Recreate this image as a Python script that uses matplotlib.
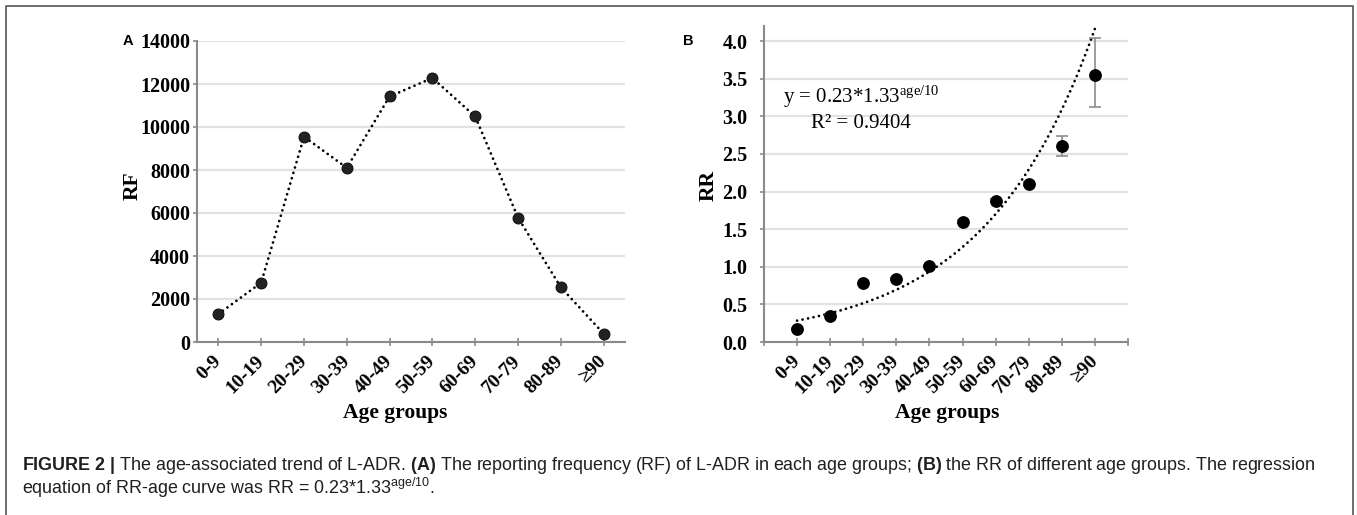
import numpy as np
import matplotlib
matplotlib.use('Agg')
import matplotlib.pyplot as plt
from matplotlib.lines import Line2D

# ---------------- data ----------------
age_groups = ['0-9', '10-19', '20-29', '30-39', '40-49', '50-59',
              '60-69', '70-79', '80-89', '≥90']
rf_values = [1300, 2760, 9550, 8100, 11420, 12280, 10490, 5785, 2545, 390]
rr_values = [0.17, 0.35, 0.78, 0.84, 1.01, 1.60, 1.88, 2.10, 2.61, 3.55]
rr_lower = [0.16, 0.34, 0.77, 0.83, 1.00, 1.58, 1.86, 2.07, 2.47, 3.12]
rr_upper = [0.18, 0.36, 0.79, 0.85, 1.02, 1.62, 1.90, 2.13, 2.74, 4.04]
rf_ticks = [0, 2000, 4000, 6000, 8000, 10000, 12000, 14000]
rr_ticks = [0.0, 0.5, 1.0, 1.5, 2.0, 2.5, 3.0, 3.5, 4.0]

# ---------------- style ----------------
plt.rcParams['font.family'] = ['Liberation Serif', 'DejaVu Serif']
plt.rcParams['mathtext.fontset'] = 'custom'
plt.rcParams['mathtext.rm'] = 'Liberation Sans'
plt.rcParams['mathtext.bf'] = 'Liberation Sans:bold'
plt.rcParams['mathtext.it'] = 'Liberation Sans:italic'

W, H = 1357, 515
fig = plt.figure(figsize=(W / 100, H / 100), dpi=100)


def fx(px):
    return px / W


def fy(py):
    return 1 - py / H


SPINE = '#8a8a8a'
GRID = '#e2e2e2'

# frame around figure
frame_col = '#555555'
fig.add_artist(Line2D([fx(6), fx(6), fx(1353), fx(1353)],
                      [fy(520), fy(6), fy(6), fy(520)],
                      color=frame_col, lw=1.2, transform=fig.transFigure))


def style_axes(ax, ylen, ypad):
    for s in ['top', 'right']:
        ax.spines[s].set_visible(False)
    for s in ['left', 'bottom']:
        ax.spines[s].set_color(SPINE)
        ax.spines[s].set_linewidth(1.5)
    ax.yaxis.grid(True, color=GRID, lw=1.6)
    ax.set_axisbelow(True)
    ax.tick_params(axis='y', direction='out', length=ylen, width=1.2,
                   color=SPINE, pad=ypad, labelsize=14.5)
    ax.tick_params(axis='x', direction='inout', length=6, width=1.2,
                   color=SPINE, pad=9, labelsize=14)
    for lbl in ax.get_xticklabels() + ax.get_yticklabels():
        lbl.set_fontweight('bold')
    for lbl in ax.get_xticklabels():
        lbl.set_rotation(45)
        lbl.set_ha('right')
        lbl.set_va('center')
        lbl.set_rotation_mode('anchor')


# ---------------- panel A ----------------
axA = fig.add_axes([fx(197), fy(342), fx(625) - fx(197), fy(41) - fy(342)])
xa = np.arange(len(age_groups))
axA.plot(xa, rf_values, color='black', lw=2.0, ls=(0, (0.01, 2.0)),
         dash_capstyle='round', zorder=2)
axA.plot(xa, rf_values, ls='none', marker='o', ms=7.8, mfc='#222222',
         mec='#111111', mew=0.8, zorder=3)
axA.set_xlim(-0.5, len(age_groups) - 0.5)
axA.set_ylim(rf_ticks[0], rf_ticks[-1])
axA.set_yticks(rf_ticks)
axA.set_yticklabels([str(v) for v in rf_ticks])
axA.set_xticks(xa)
axA.set_xticklabels(age_groups)
style_axes(axA, 3, 2)

# ---------------- panel B ----------------
axB = fig.add_axes([fx(764), fy(342), fx(1128) - fx(764), fy(26) - fy(342)])
xb = np.arange(1, len(age_groups) + 1)
coef = np.polyfit(xb, np.log(rr_values), 1)
xt = np.linspace(xb[0], xb[-1], 300)
yt = np.exp(coef[1] + coef[0] * xt)
axB.plot(xt, yt, color='black', lw=2.0, ls=(0, (0.01, 2.0)),
         dash_capstyle='round', zorder=2)
err = [np.array(rr_values) - np.array(rr_lower),
       np.array(rr_upper) - np.array(rr_values)]
axB.errorbar(xb, rr_values, yerr=err, fmt='none', ecolor='#8c8c8c',
             elinewidth=1.2, capsize=4, capthick=1.2, zorder=2.5)
axB.plot(xb, rr_values, ls='none', marker='o', ms=8.2, mfc='black',
         mec='black', zorder=3)
axB.set_xlim(0, len(age_groups) + 1)
axB.set_ylim(0, 4.2)
axB.set_yticks(rr_ticks)
axB.set_yticklabels([f'{v:.1f}' for v in rr_ticks])
axB.set_xticks(np.arange(0, len(age_groups) + 2))
axB.set_xticklabels([''] + age_groups + [''])
style_axes(axB, 3, 9)

# ---------------- labels ----------------
fig.text(fx(133), fy(186), 'RF', rotation=90, fontsize=15.5, weight='bold',
         ha='center', va='center')
fig.text(fx(709), fy(186), 'RR', rotation=90, fontsize=15.5, weight='bold',
         ha='center', va='center')
fig.text(fx(395), fy(413), 'Age groups', fontsize=15.5, weight='bold',
         ha='center', va='center')
fig.text(fx(947), fy(413), 'Age groups', fontsize=15.5, weight='bold',
         ha='center', va='center')

fig.text(fx(123), fy(41), 'A', family='Liberation Sans', weight='bold',
         fontsize=10.5, ha='left', va='center')
fig.text(fx(683), fy(41), 'B', family='Liberation Sans', weight='bold',
         fontsize=10.5, ha='left', va='center')

fig.text(fx(783), fy(103), r'y = 0.23*1.33$^{\mathregular{age/10}}$',
         fontsize=15, ha='left', va='baseline')
fig.text(fx(811), fy(128), 'R² = 0.9404', fontsize=15, ha='left',
         va='baseline')

cap_col = '#231f20'
fig.text(fx(22), fy(465),
         r'$\mathbf{FIGURE\ 2\ |}$ The age-associated trend of L-ADR. '
         r'$\mathbf{(A)}$ The reporting frequency (RF) of L-ADR in each age '
         r'groups; $\mathbf{(B)}$ the RR of different age groups. The regression',
         family='Liberation Sans', fontsize=12.9, color=cap_col,
         ha='left', va='center')
fig.text(fx(22), fy(488),
         r'equation of RR-age curve was RR = 0.23*1.33$^{\mathregular{age/10}}$.',
         family='Liberation Sans', fontsize=12.9, color=cap_col,
         ha='left', va='center')

fig.savefig('out.png', dpi=100)
